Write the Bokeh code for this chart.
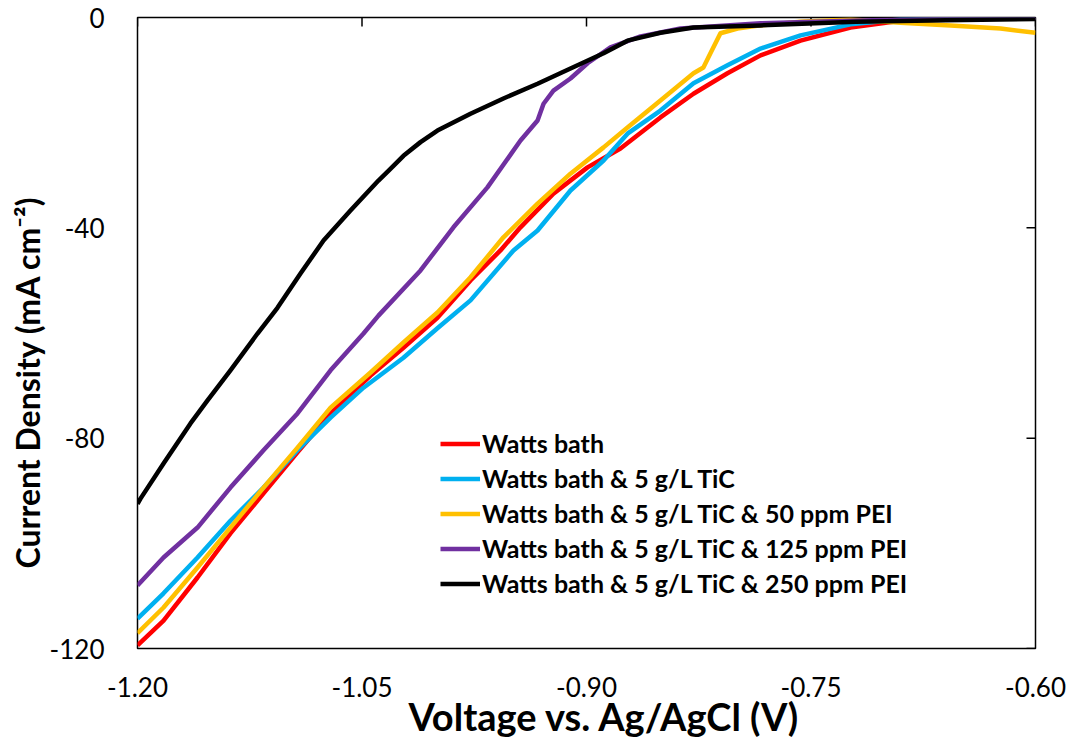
from math import pi
from bokeh.plotting import figure
from bokeh.models import (FixedTicker, Range1d, Legend, LegendItem, Title,
                          NumeralTickFormatter)
from bokeh.embed import file_html
from bokeh.resources import INLINE

# ---------------- data ----------------
x_ticks = [-1.20, -1.05, -0.90, -0.75, -0.60]
y_ticks = [-120, -80, -40, 0]

series_names = [
    "Watts bath",
    "Watts bath & 5 g/L TiC",
    "Watts bath & 5 g/L TiC & 50 ppm PEI",
    "Watts bath & 5 g/L TiC & 125 ppm PEI",
    "Watts bath & 5 g/L TiC & 250 ppm PEI",
]
series_colors = ["#FF0000", "#00B0F0", "#FFC000", "#7030A0", "#000000"]

red_v = [-1.200, -1.1826, -1.1599, -1.1379, -1.1158, -1.0931, -1.0710, -1.0443, -1.0223,
         -0.9996, -0.9775, -0.9575, -0.9441, -0.9221, -0.8993, -0.8773, -0.8506, -0.8285,
         -0.8058, -0.7837, -0.7570, -0.7236, -0.6902, -0.6568, -0.600]
red_i = [-119.4, -114.7, -106.5, -98.1, -90.5, -82.7, -75.3, -68.1, -62.8,
         -57.1, -50.0, -44.3, -39.9, -33.5, -28.5, -24.9, -19.0, -14.5,
         -10.6, -7.2, -4.4, -1.9, -0.6, -0.2, 0.0]

blue_v = [-1.200, -1.1826, -1.1599, -1.1379, -1.1158, -1.0931, -1.0710, -1.0490, -1.0223,
          -0.9996, -0.9775, -0.9488, -0.9327, -0.9107, -0.8886, -0.8726, -0.8506, -0.8285,
          -0.8058, -0.7837, -0.7570, -0.7236, -0.6902, -0.600]
blue_i = [-114.3, -109.5, -102.7, -95.7, -89.4, -82.3, -76.1, -70.4, -64.7,
          -59.1, -53.8, -44.3, -40.5, -32.9, -27.2, -22.1, -17.7, -12.5,
          -9.1, -5.9, -3.4, -1.3, -0.4, 0.0]

yellow_v = [-1.200, -1.1826, -1.1599, -1.1379, -1.1158, -1.0931, -1.0710, -1.0443, -1.0223,
            -0.9996, -0.9775, -0.9555, -0.9327, -0.9107, -0.8886, -0.8726, -0.8506, -0.8285,
            -0.8219, -0.8172, -0.8105, -0.7991, -0.7837, -0.7570, -0.7236, -0.6902, -0.6568,
            -0.6234, -0.600]
yellow_i = [-117.1, -112.2, -104.6, -97.0, -89.4, -81.8, -74.2, -67.5, -61.8,
            -56.1, -49.4, -41.8, -35.4, -29.7, -24.7, -20.9, -15.8, -10.6,
            -9.5, -6.8, -3.0, -2.1, -1.5, -0.8, -0.4, -1.0, -1.5,
            -2.1, -2.9]

purple_v = [-1.200, -1.1826, -1.1599, -1.1379, -1.1158, -1.0931, -1.0710, -1.0490, -1.0390,
            -1.0109, -0.9889, -0.9662, -0.9441, -0.9327, -0.9287, -0.9221, -0.9107, -0.8993,
            -0.8840, -0.8639, -0.8372, -0.7837, -0.7236, -0.6568, -0.600]
purple_i = [-108.0, -102.7, -97.0, -89.4, -82.3, -75.3, -67.1, -60.1, -56.7,
            -48.1, -39.9, -32.3, -23.4, -19.6, -16.4, -13.9, -11.6, -8.7,
            -5.7, -3.6, -2.1, -1.1, -0.6, -0.2, 0.0]

black_v = [-1.200, -1.198, -1.1826, -1.1646, -1.1532, -1.1379, -1.1198, -1.1065, -1.0911,
           -1.0757, -1.0577, -1.0390, -1.0310, -1.0223, -1.0109, -0.9996, -0.9775, -0.9555,
           -0.9327, -0.9107, -0.8886, -0.8726, -0.8506, -0.8285, -0.7837, -0.7200, -0.6600,
           -0.600]
black_i = [-92.5, -91.5, -84.8, -77.2, -72.8, -67.1, -60.1, -55.2, -48.7,
           -42.4, -36.7, -31.0, -28.8, -26.3, -23.7, -21.5, -18.3, -15.4,
           -12.6, -9.7, -6.8, -4.4, -2.9, -1.9, -1.5, -0.8, -0.5,
           -0.3]

series_v = [red_v, blue_v, yellow_v, purple_v, black_v]
series_i = [red_i, blue_i, yellow_i, purple_i, black_i]

x_title = "Voltage vs. Ag/AgCl (V)"
y_title = "Current Density (mA cm\u207b\u00b2)"

FONT = "Lato"
X_MIN, X_MAX = -1.2, -0.6
Y_MIN, Y_MAX = -120, 0

# ---------------- figure ----------------
p = figure(width=1067, height=746, output_backend="svg", toolbar_location=None,
           x_range=Range1d(X_MIN, X_MAX), y_range=Range1d(Y_MIN, Y_MAX),
           min_border_left=137, min_border_right=32, min_border_top=17,
           min_border_bottom=98)
p.grid.visible = False
p.outline_line_color = "black"
p.outline_line_width = 1.5
p.background_fill_color = "white"
p.border_fill_color = "white"

# bottom axis: labels only
xa = p.xaxis[0]
xa.ticker = FixedTicker(ticks=x_ticks)
xa.formatter = NumeralTickFormatter(format="0.00")
xa.axis_line_color = None
xa.major_tick_line_color = None
xa.minor_tick_line_color = None
xa.major_label_standoff = 22
xa.major_label_text_font = FONT
xa.major_label_text_font_size = "26px"
xa.major_label_text_color = "black"

# x-axis title (sits a little right of the frame centre, as in the reference)
p.add_layout(Title(text=x_title, align="left", offset=271, standoff=-14,
                   vertical_align="top",
                   text_font=FONT, text_font_style="bold", text_font_size="38px",
                   text_color="black"), "below")

# left axis: labels only
ya = p.yaxis[0]
ya.ticker = FixedTicker(ticks=y_ticks)
ya.formatter = NumeralTickFormatter(format="0")
ya.axis_line_color = None
ya.major_tick_line_color = None
ya.minor_tick_line_color = None
ya.major_label_standoff = 27
ya.major_label_text_font = FONT
ya.major_label_text_font_size = "26px"
ya.major_label_text_color = "black"

# y-axis title (sits below the frame centre, as in the reference)
p.add_layout(Title(text=y_title, align="left", offset=80, standoff=0,
                   text_font=FONT, text_font_style="bold", text_font_size="32px",
                   text_color="black"), "left")

# inward tick marks on the axis lines crossing at y = 0 (top) and x = -0.60 (right)
p.ray(x=x_ticks, y=[Y_MAX] * len(x_ticks), length=9, length_units="screen",
      angle=-pi / 2, line_color="black", line_width=1.5)
p.ray(x=[X_MAX] * len(y_ticks), y=y_ticks, length=9, length_units="screen",
      angle=pi, line_color="black", line_width=1.5)

# series
items = []
for name, color, vs, cs in zip(series_names, series_colors, series_v, series_i):
    r = p.line(vs, cs, line_color=color, line_width=4.5, line_join="round")
    items.append(LegendItem(label=name, renderers=[r]))

legend = Legend(items=items, location=(303, 50), orientation="vertical",
                label_text_font=FONT, label_text_font_style="bold",
                label_text_font_size="25px", label_text_color="black",
                glyph_width=40, glyph_height=25, label_height=25,
                label_standoff=2, spacing=5, padding=0, margin=0,
                border_line_color=None, background_fill_alpha=0)
p.add_layout(legend)

open("out.html", "w").write(file_html(p, INLINE))
